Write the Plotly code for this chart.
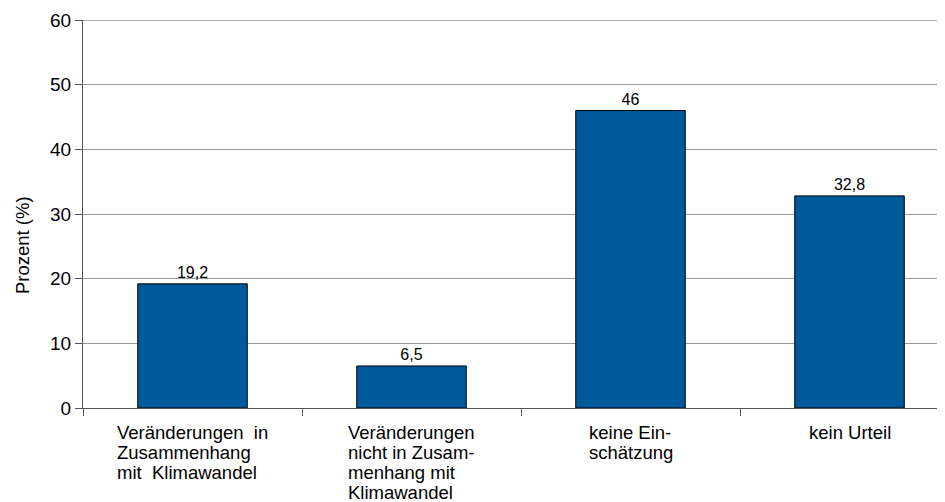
import plotly.graph_objects as go

categories = ["Veränderungen in Zusammenhang mit Klimawandel",
              "Veränderungen nicht in Zusammenhang mit Klimawandel",
              "keine Einschätzung",
              "kein Urteil"]
label_lines = [["Veränderungen  in", "Zusammenhang", "mit  Klimawandel"],
               ["Veränderungen", "nicht in Zusam-", "menhang mit", "Klimawandel"],
               ["keine Ein-", "schätzung"],
               ["kein Urteil"]]
values = [19.2, 6.5, 46, 32.8]
y_ticks = [0, 10, 20, 30, 40, 50, 60]
y_title = "Prozent (%)"

FONT = "Liberation Sans, Arial, sans-serif"

fig = go.Figure(go.Bar(
    x=categories, y=values,
    width=0.5,
    marker=dict(color="#00599a", line=dict(color="#000000", width=1)),
    text=[str(v).replace(".", ",") for v in values],
    textposition="outside",
    textfont=dict(family=FONT, size=16, color="#000000"),
    cliponaxis=False,
))

for cat, lines in zip(categories, label_lines):
    txt = "<br>".join('<span style="font-size:18.5px">%s</span>' % l.replace("  ", "&nbsp; ") for l in lines)
    fig.add_annotation(x=cat, y=0, xref="x", yref="y", text=txt, showarrow=False,
                       align="left", xanchor="center", yanchor="top", yshift=-12,
                       font=dict(family=FONT, size=15.4, color="#000000"))

# y-axis title
fig.add_annotation(x=0, y=0.42, xref="paper", yref="paper", xshift=-61, text=y_title,
                   textangle=-90, showarrow=False, xanchor="center", yanchor="middle",
                   font=dict(family=FONT, size=18.5, color="#000000"))

fig.add_shape(type="line", xref="paper", yref="y", x0=0, x1=1, y0=y_ticks[-1], y1=y_ticks[-1],
              line=dict(color="#555555", width=1))

fig.update_layout(
    width=937, height=494,
    margin=dict(l=75, r=0, t=12, b=94),
    paper_bgcolor="#ffffff", plot_bgcolor="#ffffff",
    showlegend=False,
    font=dict(family=FONT, size=16, color="#000000"),
    xaxis=dict(
        type="category",
        range=[-0.5, 3.436],
        tickson="boundaries",
        ticks="outside", ticklen=7, tickcolor="#555555", tickwidth=1,
        showticklabels=False,
        showline=True, linecolor="#555555", linewidth=1,
        showgrid=False,
    ),
    yaxis=dict(
        range=[0, 60],
        tickvals=y_ticks,
        ticks="outside", ticklen=7, tickcolor="#555555", tickwidth=1,
        showline=True, linecolor="#555555", linewidth=1,
        showgrid=True, gridcolor="#999999", gridwidth=1,
        zeroline=False,
        tickfont=dict(family=FONT, size=19, color="#000000"),
    ),
)

fig.write_html("out.html")
